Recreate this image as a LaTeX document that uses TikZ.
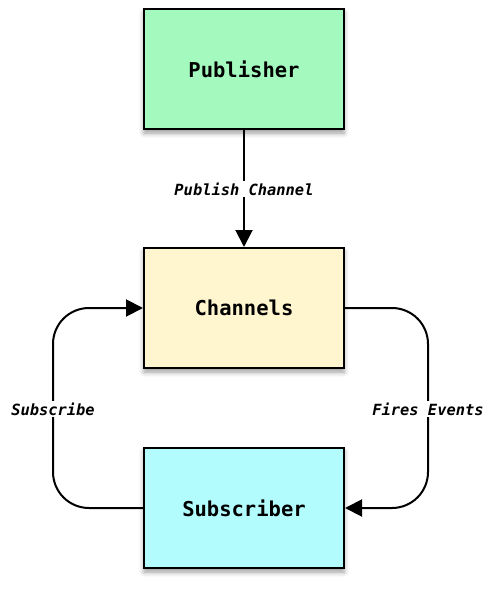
\documentclass[tikz,border=0pt]{standalone}
\usepackage{fontspec}
\setmonofont{DejaVu Sans Mono}
\usetikzlibrary{arrows.meta,shadows.blur}
\definecolor{pubcol}{RGB}{163,249,190}
\definecolor{chancol}{RGB}{255,245,207}
\definecolor{subcol}{RGB}{179,252,254}
\tikzset{
  box/.style={draw=black, line width=2pt, minimum width=200pt, minimum height=120pt,
    font=\fontsize{20.5}{24}\selectfont\ttfamily\bfseries,
    blur shadow={shadow xshift=0pt, shadow yshift=-4pt, shadow blur radius=5pt, shadow opacity=40}},
  conn/.style={line width=2pt, rounded corners=36pt, -{Triangle[length=17pt,width=17pt]}},
  lbl/.style={fill=white, inner sep=2pt, font=\fontsize{15.4}{18}\selectfont\ttfamily\bfseries\itshape}
}
\begin{document}
\begin{tikzpicture}[x=1pt,y=-1pt]
\useasboundingbox (0,0) rectangle (494,589);
\node[box, fill=pubcol] (pub) at (244,69) {Publisher};
\node[box, fill=chancol] (chan) at (244,308) {Channels};
\node[box, fill=subcol] (sub) at (244,508) {Subscriber};
\coordinate (l1) at (53,508);
\coordinate (l2) at (53,308);
\coordinate (r1) at (428,308);
\coordinate (r2) at (428,508);
\draw[conn] (pub.south) -- (chan.north);
\draw[conn] (sub.west) -- (l1) -- (l2) -- (chan.west);
\draw[conn] (chan.east) -- (r1) -- (r2) -- (sub.east);
\node[lbl] at (244,189) {Publish Channel};
\node[lbl] at (53,409) {Subscribe};
\node[lbl] at (428,409) {Fires Events};
\end{tikzpicture}
\end{document}
